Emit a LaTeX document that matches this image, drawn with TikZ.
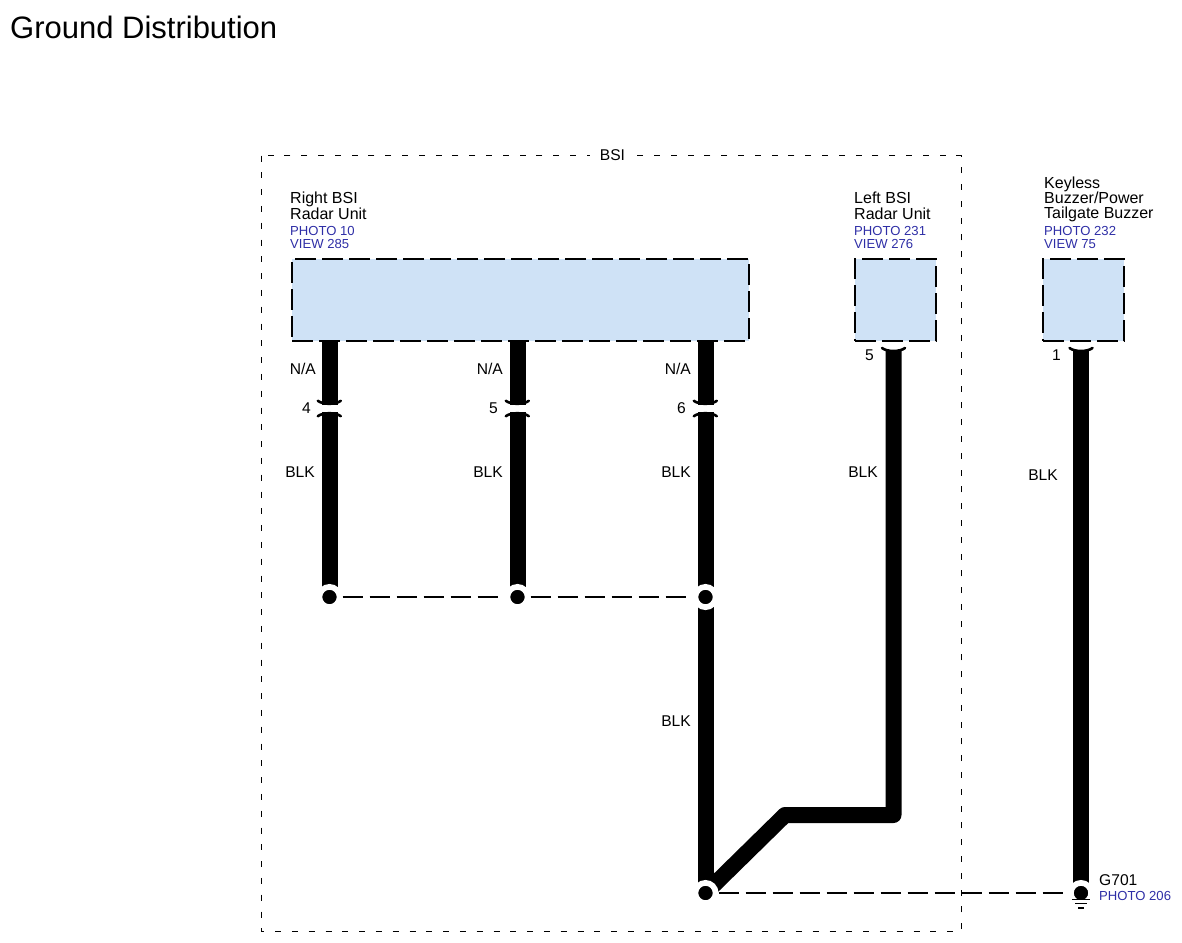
\documentclass[tikz,border=0pt]{standalone}
\usepackage{fontspec}
\setmainfont{Liberation Sans}
\usepackage{tikz}
\usetikzlibrary{positioning, backgrounds}
\usepackage{xcolor}
\definecolor{unitfill}{HTML}{CFE2F6}
\definecolor{photoblue}{HTML}{2E2EA6}
\tikzstyle{unit} = [draw=black, fill=unitfill, line width=2.9pt, dash pattern=on 21pt off 6pt, inner sep=0pt, minimum height=82pt]
\tikzstyle{wire} = [line width=16pt, line join=round]
\tikzstyle{horn} = [line width=2.6pt, line cap=round]
\tikzstyle{link} = [line width=2pt, dash pattern=on 20pt off 7pt]
\tikzstyle{splice} = [circle, fill=black, draw=white, line width=5.7pt, minimum size=20.3pt, inner sep=0pt]
\tikzstyle{gap} = [fill=white, inner sep=0pt, minimum width=26pt, minimum height=7pt]
\tikzstyle{lbl} = [inner sep=0pt, font=\fontsize{15.6}{16}\selectfont, anchor=east]
\tikzstyle{unitname} = [inner sep=0pt, align=left, anchor=north west, font=\fontsize{16}{15.3}\selectfont]
\tikzstyle{photo} = [inner sep=0pt, align=left, text=photoblue, font=\fontsize{13.1}{13}\selectfont]
\newcommand{\midconn}[1]{%
  \draw[horn] (#1.north west) ++(1.5,-4) .. controls +(5,4) and +(-5,4) .. +(23,0);
  \draw[horn] (#1.south west) ++(1.5,4) .. controls +(5,-4) and +(-5,-4) .. +(23,0);}
\newcommand{\topconn}[1]{%
  \draw[horn] (#1) ++(-11.5,-3) .. controls +(5,4) and +(-5,4) .. +(23,0);}

\begin{document}
\begin{tikzpicture}[x=1pt, y=-1pt]
        \useasboundingbox (0,0) rectangle (1182,942);
        \node[inner sep=0pt, anchor=west, font=\fontsize{31}{32}\selectfont] (title) at (10,27) {Ground Distribution};

        % BSI frame
        \node[inner sep=0pt] (frametl) at (261.5,155.5) {};
        \node[inner sep=0pt] (framebr) at (961.5,931.5) {};
        \draw[line width=1pt, dash pattern=on 6pt off 10.8pt] (frametl) rectangle (framebr);
        \node[fill=white, inner xsep=10pt, inner ysep=2pt, font=\fontsize{15.6}{16}\selectfont] (bsi) at (612.5,155) {BSI};

        % units
        \node[unit, minimum width=457pt] (right) at (520.5,300) {};
        \node[unit, minimum width=81pt] (left) at (895.5,300) {};
        \node[unit, minimum width=81pt] (buzzer) at (1083.5,300) {};

        \node[unitname] (rightname) at (290,192) {Right BSI\\Radar Unit};
        \node[photo, below right=6.5pt and 0pt of rightname.south west] (rightphoto) {PHOTO 10\\VIEW 285};
        \node[unitname] (leftname) at (854,192) {Left BSI\\Radar Unit};
        \node[photo, below right=6.5pt and 0pt of leftname.south west] (leftphoto) {PHOTO 231\\VIEW 276};
        \node[unitname] (buzzername) at (1044,176.5) {Keyless\\Buzzer/Power\\Tailgate Buzzer};
        \node[photo, below right=3.5pt and 0pt of buzzername.south west] (buzzerphoto) {PHOTO 232\\VIEW 75};

        % splices and connector gaps
        \node[splice] (s1) at (329.5,597) {};
        \node[splice] (s2) at (517.5,597) {};
        \node[splice] (s3) at (705.5,597) {};
        \node[splice] (s4) at (705.5,893) {};
        \node[splice] (g1) at (1081,893) {};

        \coordinate (w4) at (329.5,341);
        \coordinate (w5) at (517.5,341);
        \coordinate (w6) at (705.5,341);
        \coordinate (t5) at (893.5,351);
        \coordinate (t1) at (1081,351);
        \coordinate (k1) at (893.5,815);
        \coordinate (k2) at (785,815);

        \node[gap] (c4) at (329.5,408.5) {};
        \node[gap] (c5) at (517.5,408.5) {};
        \node[gap] (c6) at (705.5,408.5) {};

        \begin{scope}[on background layer]
        \draw[wire] (w4) -- (s1.center);
        \draw[wire] (w5) -- (s2.center);
        \draw[wire] (w6) -- (s4.center);
        \draw[wire] (t5) -- (k1) -- (k2) -- (s4.center);
        \draw[wire] (t1) -- (g1.center);
        \end{scope}

        \midconn{c4}
        \midconn{c5}
        \midconn{c6}
        \topconn{t5}
        \topconn{t1}

        \draw[link] (s1) -- (s2);
        \draw[link] (s2) -- (s3);
        \draw[link] (s4) -- (g1);

        % ground symbol
        \draw[line width=1.6pt] (g1.center) ++(-9,6.5) -- ++(18,0);
        \draw[line width=1.6pt] (g1.center) ++(-6,10.5) -- ++(12,0);
        \draw[line width=1.6pt] (g1.center) ++(-3,15) -- ++(6,0);

        % wire labels
        \node[lbl] (na4) at (316,368.5) {N/A};
        \node[lbl] (na5) at (503,368.5) {N/A};
        \node[lbl] (na6) at (691,368.5) {N/A};
        \node[lbl] (n4) at (311,408) {4};
        \node[lbl] (n5) at (498,408) {5};
        \node[lbl] (n6) at (686,408) {6};
        \node[lbl] (n7) at (874,355) {5};
        \node[lbl] (n1) at (1061,355) {1};
        \node[lbl] (blk1) at (315,472.5) {BLK};
        \node[lbl] (blk2) at (503,472.5) {BLK};
        \node[lbl] (blk3) at (691,472.5) {BLK};
        \node[lbl] (blk4) at (691,721.5) {BLK};
        \node[lbl] (blk5) at (878,472.5) {BLK};
        \node[lbl] (blk6) at (1058,475.5) {BLK};

        \node[lbl, anchor=west] (g701) at (1099,880.5) {G701};
        \node[photo, anchor=west] (g701photo) at (1099,895.5) {PHOTO 206};
      \end{tikzpicture}
\end{document}
